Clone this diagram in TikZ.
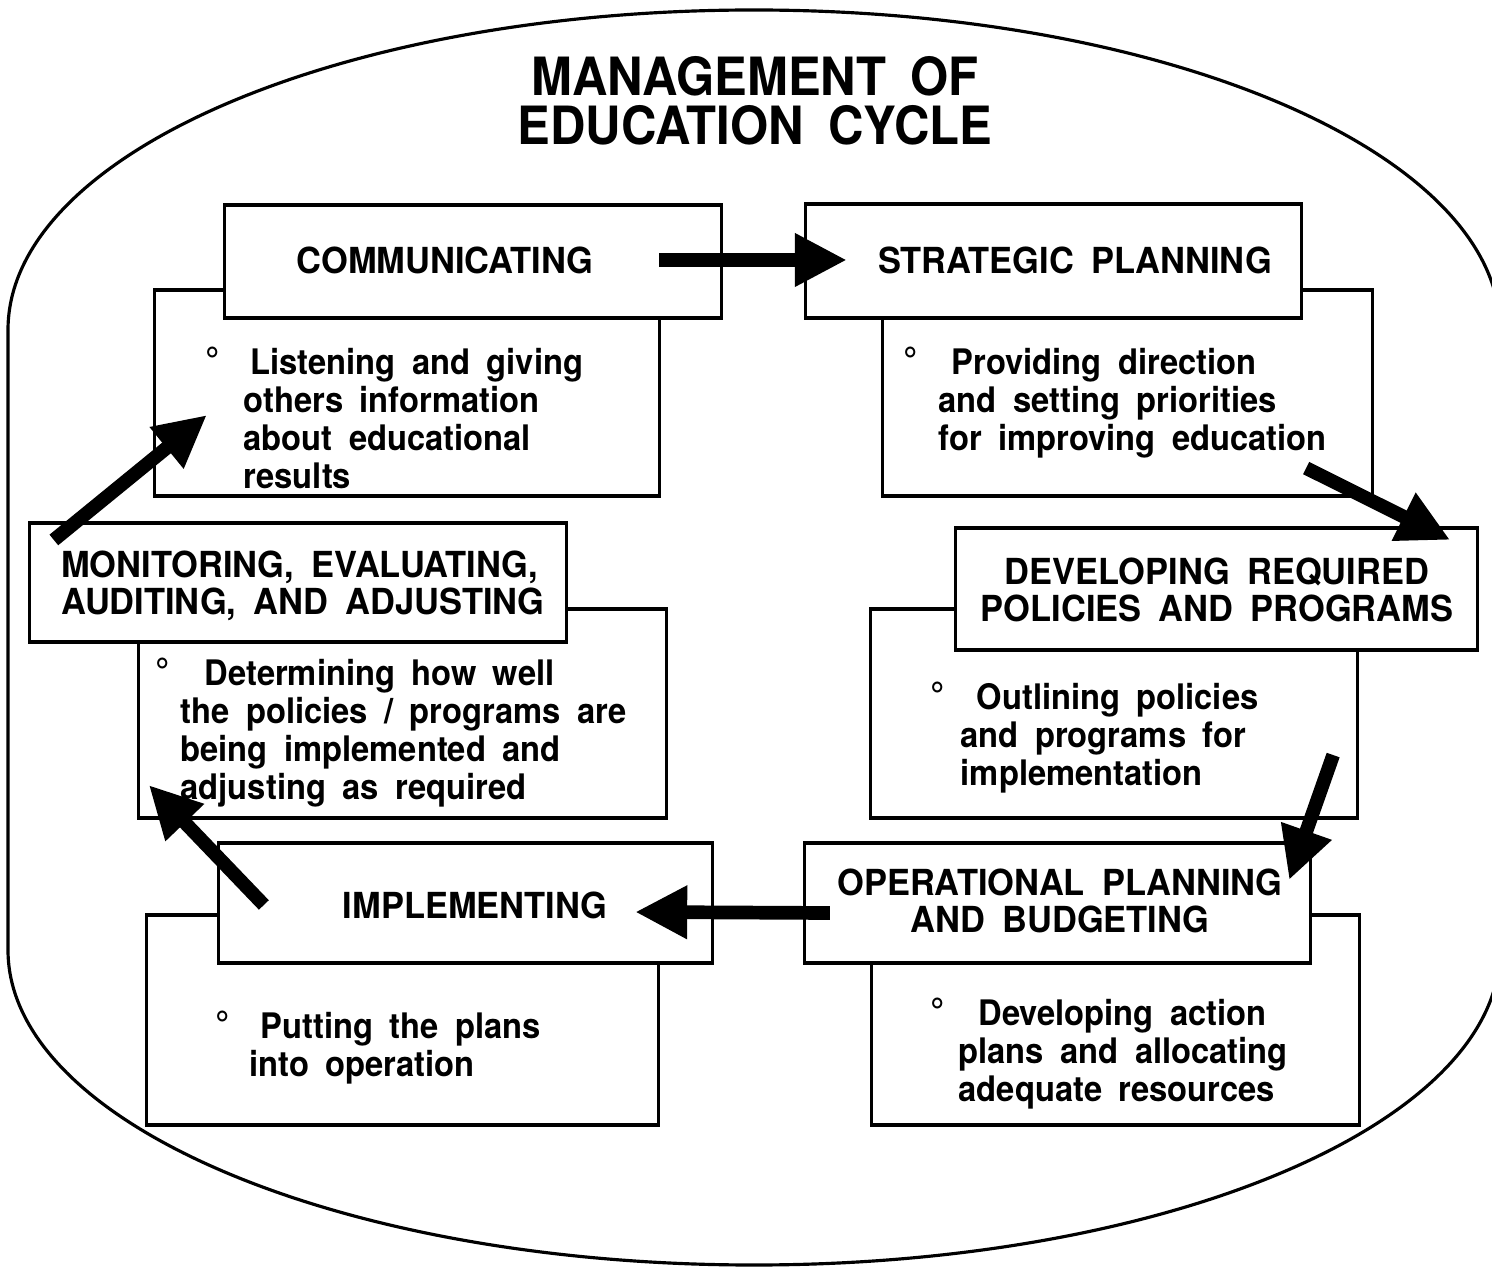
\documentclass[tikz,border=0pt]{standalone}
\usepackage{fontspec}
\setmainfont[FakeStretch=0.93,WordSpace=1.8]{TeX Gyre Heros}
\newfontfamily\fasi[FakeStretch=0.96,WordSpace=1.8]{TeX Gyre Heros}
\usetikzlibrary{arrows.meta,calc}

% pallino della voce: #1 distanza dal testo, #2 rientro della prima riga
\newcommand{\punto}[2]{\llap{{\fontsize{11}{11}\selectfont°}\hspace{#1}}\hspace*{#2}}

\tikzset{
  riquadro/.style={draw, line width=0.9pt, fill=white, inner sep=0pt, outer sep=0pt},
  titolo/.style={font=\fasi\bfseries\fontsize{10.2}{10.5}\selectfont, inner sep=0pt},
  voce/.style={font=\bfseries\fontsize{10}{10.8}\selectfont, align=left, anchor=north west, inner sep=0pt},
  freccia/.style={line width=3.9pt, -{Triangle[length=0.52cm,width=0.5cm]}}
}

\begin{document}
\begin{tikzpicture}[x=0.01cm, y=-0.01cm]
\useasboundingbox (0,0) rectangle (1492,1271);
% contorno
\draw[line width=0.9pt] (8,330) -- (8,950)
  arc[start angle=180, end angle=0, x radius=746, y radius=315]
  -- (1500,330)
  arc[start angle=0, end angle=-180, x radius=746, y radius=320] -- cycle;
% titolo
\node[font=\bfseries\fontsize{15}{14}\selectfont, align=center, inner sep=0pt] (tit) at (755,101) {MANAGEMENT OF\\EDUCATION CYCLE};
% riquadri delle descrizioni
\node[riquadro, minimum width=5.04cm, minimum height=2.06cm] (commb) at (407,393) {};
\node[riquadro, minimum width=4.89cm, minimum height=2.06cm] (stratb) at (1127.5,393) {};
\node[riquadro, minimum width=5.27cm, minimum height=2.09cm] (monitb) at (402.5,713.5) {};
\node[riquadro, minimum width=4.86cm, minimum height=2.09cm] (svilb) at (1114,713.5) {};
\node[riquadro, minimum width=5.11cm, minimum height=2.10cm] (implb) at (402.5,1020) {};
\node[riquadro, minimum width=4.87cm, minimum height=2.10cm] (operb) at (1115.5,1020) {};
% riquadri delle fasi
\node[riquadro, minimum width=4.96cm, minimum height=1.13cm] (commh) at (473,261.5) {};
\node[riquadro, minimum width=4.95cm, minimum height=1.14cm] (strath) at (1053.5,261) {};
\node[riquadro, minimum width=5.36cm, minimum height=1.19cm] (monith) at (298,582.5) {};
\node[riquadro, minimum width=5.21cm, minimum height=1.22cm] (svilh) at (1216.5,589) {};
\node[riquadro, minimum width=4.93cm, minimum height=1.20cm] (implh) at (465.5,903) {};
\node[riquadro, minimum width=5.05cm, minimum height=1.20cm] (operh) at (1057.5,903) {};
% nomi delle fasi
\node[titolo] (commlab) at (445,260) {COMMUNICATING};
\node[titolo] (stratlab) at (1075,260) {STRATEGIC PLANNING};
\node[titolo, align=left] (monitlab) at (303,586) {MONITORING, EVALUATING,\\AUDITING, AND ADJUSTING};
\node[titolo, align=center] (svillab) at (1217,590) {DEVELOPING REQUIRED\\POLICIES AND PROGRAMS};
\node[titolo] (impllab) at (475,905) {IMPLEMENTING};
\node[titolo, align=center] (operlab) at (1060,901) {OPERATIONAL PLANNING\\AND BUDGETING};
% descrizioni
\node[voce] (commtxt) at (243,346) {\punto{0.24cm}{0.07cm}Listening and giving\\others information\\about educational\\results};
\node[voce] (strattxt) at (938,346) {\punto{0.21cm}{0.13cm}Providing direction\\and setting priorities\\for improving education};
\node[voce] (monittxt) at (180,657) {\punto{0.11cm}{0.24cm}Determining how well\\the policies / programs are\\being implemented and\\adjusting as required};
\node[voce] (sviltxt) at (960,681) {\punto{0.16cm}{0.16cm}Outlining policies\\and programs for\\implementation};
\node[voce] (impltxt) at (249,1010) {\punto{0.20cm}{0.11cm}Putting the plans\\into operation};
\node[voce] (opertxt) at (958,997) {\punto{0.14cm}{0.20cm}Developing action\\plans and allocating\\adequate resources};
% frecce del ciclo
\draw[freccia] ($(commh.east)+(-62,-1.5)$) -- ($(strath.west)+(41,-1)$);
\draw[freccia] ($(stratb.south east)+(-66,-28)$) -- ($(svilh.north east)+(-27,12)$);
\draw[freccia] ($(svilb.south east)+(-24,-63)$) -- ($(operh.north east)+(-21,37)$);
\draw[freccia] ($(operh.west)+(25,10)$) -- ($(implh.east)+(-77,9)$);
\draw[freccia] ($(implh.north west)+(45,62)$) -- ($(monitb.south west)+(10,-33)$);
\draw[freccia] ($(monith.north west)+(24,17)$) -- ($(commb.south west)+(52,-81)$);
\end{tikzpicture}
\end{document}
